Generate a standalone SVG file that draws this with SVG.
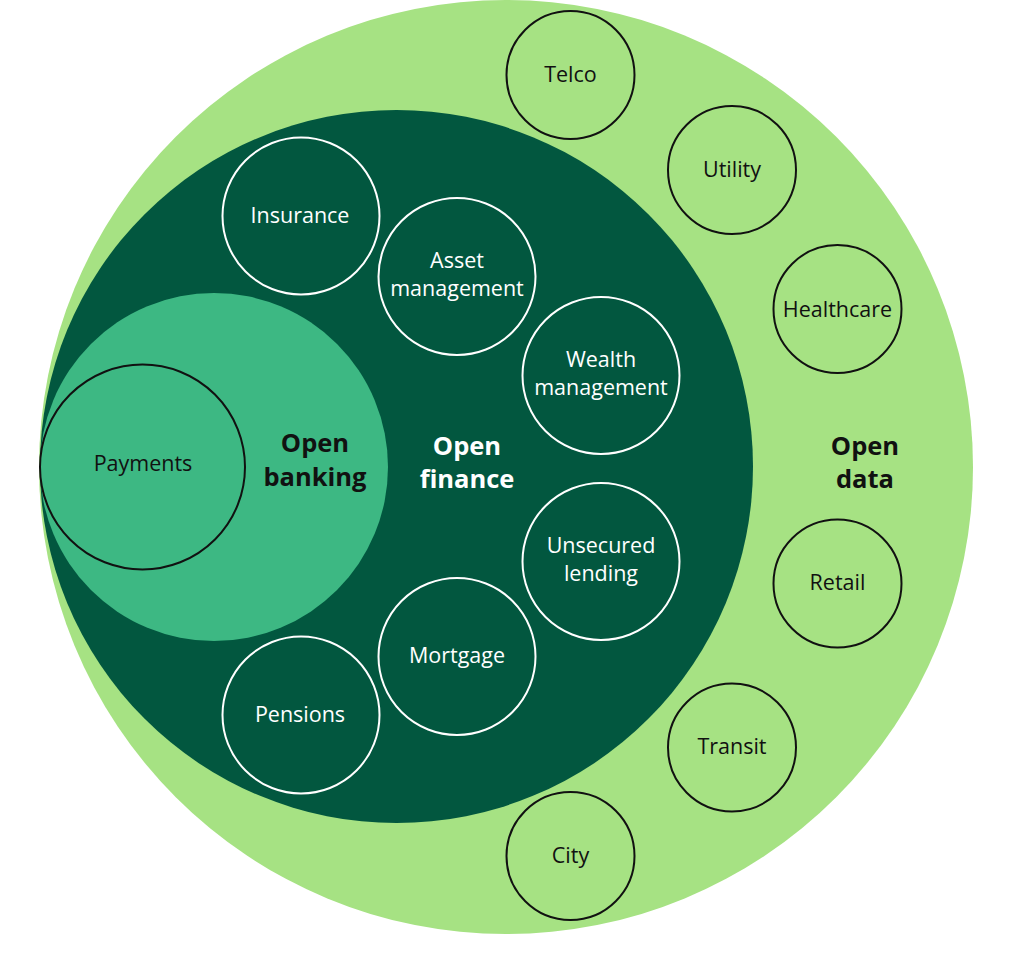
<svg xmlns="http://www.w3.org/2000/svg" width="1024" height="967" viewBox="0 0 1024 967">
<style>
.lbl{font-family:"Open Sans","Liberation Sans",sans-serif;font-size:21.5px;text-anchor:middle}
.w{fill:#ffffff}
.k{fill:#111111}
.big{font-family:"Open Sans","Liberation Sans",sans-serif;font-size:25.5px;font-weight:700;text-anchor:middle}
.wc{fill:none;stroke:#ffffff;stroke-width:2}
.kc{fill:none;stroke:#111111;stroke-width:2}
</style>
<rect width="1024" height="967" fill="#ffffff"/>
<g id="open-data">
<circle cx="506" cy="467" r="467" fill="#A6E283"/>
<text class="big k" x="865" y="455">Open</text>
<text class="big k" x="865" y="488">data</text>
</g>
<g id="open-finance">
<circle cx="396.5" cy="466.5" r="356.5" fill="#02573F"/>
<text class="big w" x="467" y="455">Open</text>
<text class="big w" x="467" y="488">finance</text>
</g>
<g id="open-banking">
<circle cx="214" cy="467" r="174" fill="#3DB883"/>
<text class="big k" x="315" y="452">Open</text>
<text class="big k" x="315" y="486">banking</text>
</g>
<g id="payments">
<circle class="kc" cx="142.5" cy="467" r="102.5"/>
<text class="lbl k" x="143" y="471">Payments</text>
</g>
<g id="insurance">
<circle class="wc" cx="301" cy="216" r="78.5"/>
<text class="lbl w" x="300" y="223">Insurance</text>
</g>
<g id="asset-management">
<circle class="wc" cx="457" cy="276.5" r="78.5"/>
<text class="lbl w" x="457" y="268">Asset</text>
<text class="lbl w" x="457" y="296">management</text>
</g>
<g id="wealth-management">
<circle class="wc" cx="601" cy="375.5" r="78.5"/>
<text class="lbl w" x="601" y="367">Wealth</text>
<text class="lbl w" x="601" y="395">management</text>
</g>
<g id="unsecured-lending">
<circle class="wc" cx="601" cy="561.5" r="78.5"/>
<text class="lbl w" x="601" y="553">Unsecured</text>
<text class="lbl w" x="601" y="581">lending</text>
</g>
<g id="mortgage">
<circle class="wc" cx="457" cy="656.5" r="78.5"/>
<text class="lbl w" x="457" y="663">Mortgage</text>
</g>
<g id="pensions">
<circle class="wc" cx="301" cy="715" r="78.5"/>
<text class="lbl w" x="300" y="722">Pensions</text>
</g>
<g id="telco">
<circle class="kc" cx="570.5" cy="75" r="64"/>
<text class="lbl k" x="570.5" y="82">Telco</text>
</g>
<g id="utility">
<circle class="kc" cx="732" cy="170" r="64"/>
<text class="lbl k" x="732" y="177">Utility</text>
</g>
<g id="healthcare">
<circle class="kc" cx="837.5" cy="309" r="64"/>
<text class="lbl k" x="837.5" y="317">Healthcare</text>
</g>
<g id="retail">
<circle class="kc" cx="837.5" cy="583.5" r="64"/>
<text class="lbl k" x="837.5" y="590">Retail</text>
</g>
<g id="transit">
<circle class="kc" cx="732" cy="747.5" r="64"/>
<text class="lbl k" x="732" y="754">Transit</text>
</g>
<g id="city">
<circle class="kc" cx="570.5" cy="856" r="64"/>
<text class="lbl k" x="570.5" y="863">City</text>
</g>
<g id="connectors"></g>
</svg>
